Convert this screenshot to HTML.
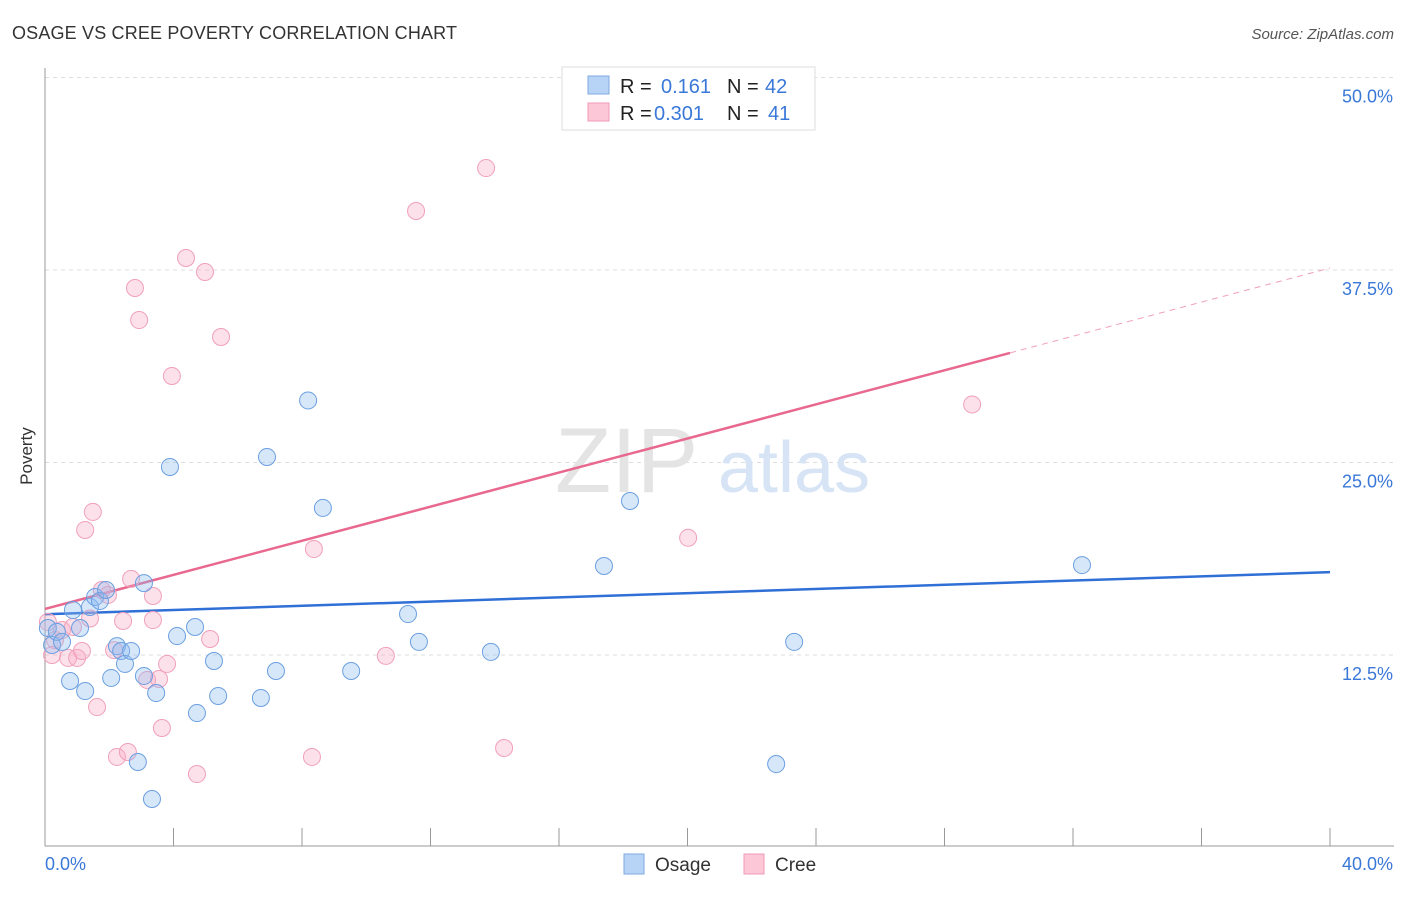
<!DOCTYPE html>
<html><head><meta charset="utf-8"><style>
body{margin:0;background:#fff;font-family:"Liberation Sans",sans-serif;}
svg text{font-family:"Liberation Sans",sans-serif;}
</style></head><body>
<svg id="chart" width="1406" height="892" xmlns="http://www.w3.org/2000/svg">
<text x="12" y="39" font-size="18" fill="#333" textLength="445">OSAGE VS CREE POVERTY CORRELATION CHART</text>
<text x="1394" y="39" font-size="15" fill="#555" font-style="italic" text-anchor="end">Source: ZipAtlas.com</text>
<g id="grid"></g>
<g><text x="555" y="492" font-size="92" fill="#e4e4e4" font-family="Liberation Serif">ZIP</text><text x="718" y="492" font-size="72" fill="#d6e4f5">atlas</text></g>
<line x1="45" y1="68" x2="45" y2="846" stroke="#999"/>
<line x1="45" y1="846" x2="1394" y2="846" stroke="#999"/>
<g id="xticks"></g>
<text x="32" y="456" font-size="17" fill="#333" transform="rotate(-90 32 456)" text-anchor="middle">Poverty</text>
<text x="45" y="870" font-size="18" fill="#3a78d8">0.0%</text>
<text x="1393" y="870" font-size="18" fill="#3a78d8" text-anchor="end">40.0%</text>
<g id="lines"></g>
<g id="points"></g>
<g>
<rect x="562" y="67" width="253" height="63" fill="#fff" stroke="#ddd"/>
<rect x="588" y="76" width="21" height="18" fill="#b7d3f5" stroke="#7fa9e0"/>
<rect x="588" y="103" width="21" height="18" fill="#fcc8d8" stroke="#f09ab6"/>
<text x="620" y="93" font-size="20" fill="#222">R = </text><text x="661" y="93" font-size="20" fill="#3a78d8">0.161</text>
<text x="727" y="93" font-size="20" fill="#222">N = </text><text x="765" y="93" font-size="20" fill="#3a78d8">42</text>
<text x="620" y="120" font-size="20" fill="#222">R = </text><text x="654" y="120" font-size="20" fill="#3a78d8">0.301</text>
<text x="727" y="120" font-size="20" fill="#222">N = </text><text x="768" y="120" font-size="20" fill="#3a78d8">41</text>
</g>
<g>
<rect x="624" y="854" width="20" height="20" fill="#b7d3f5" stroke="#7fa9e0"/>
<text x="655" y="871" font-size="19" fill="#333">Osage</text>
<rect x="744" y="854" width="20" height="20" fill="#fcc8d8" stroke="#f09ab6"/>
<text x="775" y="871" font-size="19" fill="#333">Cree</text>
</g>
</svg>
<script>
const yTicks=[12.5,25,37.5,50];
const yTickLabels=["12.5%","25.0%","37.5%","50.0%"];
const xTicks=[0,4,8,12,16,20,24,28,32,36,40];
const osageX=[0.09,0.22,0.37,0.53,0.78,0.87,1.09,1.25,1.40,1.56,1.71,1.90,2.06,2.24,2.37,2.49,2.68,2.89,3.08,3.08,3.33,3.46,3.89,4.11,4.67,4.73,5.26,5.39,6.72,6.91,7.19,8.19,8.65,9.53,11.30,11.64,13.88,17.40,18.21,22.76,23.32,32.28];
const osageY=[14.25,13.15,14.0,13.35,10.81,15.42,14.25,10.16,15.62,16.27,16.01,16.72,11.01,13.08,12.76,11.92,12.76,5.55,17.17,11.14,3.15,10.03,24.71,13.73,14.32,8.73,12.11,9.84,9.71,25.36,11.46,29.03,22.05,11.46,15.16,13.35,12.70,18.28,22.50,5.42,13.35,18.34];
const creeX=[0.09,0.22,0.31,0.53,0.72,0.87,1.0,1.15,1.25,1.40,1.49,1.62,1.77,1.96,2.15,2.24,2.43,2.58,2.68,2.80,2.93,3.18,3.36,3.36,3.55,3.64,3.80,3.95,4.39,4.73,4.98,5.14,5.48,8.31,8.37,10.61,11.55,13.73,14.29,20.02,28.86];
const creeY=[14.64,12.50,13.47,14.12,12.31,14.32,12.31,12.76,20.62,14.87,21.79,9.12,16.72,16.40,12.82,5.88,14.71,6.20,17.44,36.33,34.25,10.88,16.33,14.77,10.94,7.76,11.92,30.62,38.28,4.77,37.37,13.54,33.15,5.88,19.38,12.44,41.33,44.12,6.46,20.11,28.77];
const osageTrend=[15.15,17.88];
const creeTrend=[15.49,37.63];
const creeSolidEnd=30.04;
const NS="http://www.w3.org/2000/svg";
const X=v=>45+v*32.125, Y=v=>847.5-v*15.4;
function mk(tag,attrs,parent){const e=document.createElementNS(NS,tag);for(const k in attrs)e.setAttribute(k,attrs[k]);parent.appendChild(e);return e;}
const grid=document.getElementById('grid');
yTicks.forEach((t,i)=>{
 const l=mk('line',{x1:45,x2:1394,y1:Y(t),y2:Y(t),stroke:'#ddd','stroke-dasharray':'4,4'},grid);
 
 
 const tx=mk('text',{x:1393,y:Y(t)+25,'font-size':18,fill:'#3a78d8','text-anchor':'end'},grid);
 tx.textContent=yTickLabels[i];
 
 
});
const xt=document.getElementById('xticks');
xTicks.forEach(t=>{
 const l=mk('line',{x1:X(t),x2:X(t),y1:828,y2:846,stroke:'#999'},xt);
 
 
});
const pts=document.getElementById('points');
function draw(xs,ys,fill,stroke,name){xs.forEach((x,i)=>{
 const c=mk('circle',{cx:X(x),cy:Y(ys[i]),r:8.5,fill:fill,stroke:stroke,'stroke-width':1},pts);
 
 
});}
draw(creeX,creeY,'rgba(248,170,195,0.35)','#f0a0ba','cree-point');
draw(osageX,osageY,'rgba(140,185,240,0.35)','#6b9fe0','osage-point');
const lines=document.getElementById('lines');
let l=mk('line',{x1:X(0),y1:Y(osageTrend[0]),x2:X(40),y2:Y(osageTrend[1]),stroke:'#2f6fd6','stroke-width':2.5},lines);


const cy=x=>creeTrend[0]+(creeTrend[1]-creeTrend[0])*x/40;
l=mk('line',{x1:X(0),y1:Y(cy(0)),x2:X(creeSolidEnd),y2:Y(cy(creeSolidEnd)),stroke:'#e8688f','stroke-width':2.5},lines);


l=mk('line',{x1:X(creeSolidEnd),y1:Y(cy(creeSolidEnd)),x2:X(40),y2:Y(cy(40)),stroke:'#f0a0ba','stroke-width':1,'stroke-dasharray':'6,5'},lines);


</script>
</body></html>
